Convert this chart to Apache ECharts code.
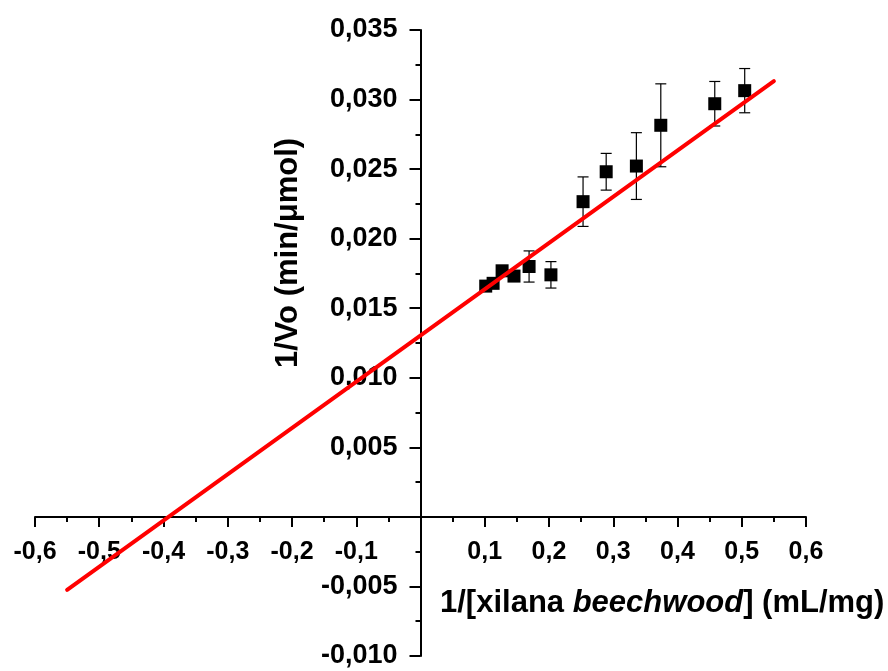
<!DOCTYPE html>
<html>
<head>
<meta charset="utf-8">
<script src="https://cdn.jsdelivr.net/npm/echarts@6/dist/echarts.min.js"></script>
<style>
html,body{margin:0;padding:0;background:#fff;}
#chart{width:888px;height:671px;}
</style>
</head>
<body>
<div id="chart"></div>
<script>
// 1/[S] (mL/mg)
var xVals = [0.1015, 0.113, 0.127, 0.1455, 0.169, 0.203, 0.253, 0.289, 0.336, 0.374, 0.458, 0.5046];
// 1/Vo (min/µmol)
var yVals = [0.01659, 0.01679, 0.01769, 0.01731, 0.01800, 0.01740, 0.02266, 0.02481, 0.02522, 0.02815, 0.02970, 0.03064];
// error (±)
var yErr = [0.0003, 0.0003, 0.0003, 0.0003, 0.00112, 0.00095, 0.00178, 0.00132, 0.0024, 0.00298, 0.0016, 0.00159];
// Lineweaver-Burk fit line endpoints
var fitX = [-0.55, 0.55];
var fitY = [-0.00524, 0.03132];

var xTitleA = '1/[xilana ';
var xTitleB = 'beechwood';
var xTitleC = '] (mL/mg)';
var yTitle = '1/Vo (min/\u03bcmol)';

var FONT = '"Liberation Sans", Arial, sans-serif';

var points = xVals.map(function (x, i) { return [x, yVals[i]]; });
var errData = xVals.map(function (x, i) { return [x, yVals[i] - yErr[i], yVals[i] + yErr[i]]; });
var fitData = fitX.map(function (x, i) { return [x, fitY[i]]; });

var GL = 35, GR = 82, GT = 30, GB = 15, W = 888, H = 671;
var xMin = -0.6, xMax = 0.6, yMin = -0.010, yMax = 0.035;
var gw = W - GL - GR, gh = H - GT - GB;
var yAxisOffset = -gw * (0 - xMin) / (xMax - xMin);
var xAxisOffset = -gh * (0 - yMin) / (yMax - yMin);

var chart = echarts.init(document.getElementById('chart'));
chart.setOption({
  backgroundColor: '#fff',
  animation: false,
  grid: {left: GL, right: GR, top: GT, bottom: GB, containLabel: false, outerBoundsMode: 'none'},
  xAxis: {
    type: 'value', min: xMin, max: xMax, interval: 0.1, position: 'bottom', offset: xAxisOffset,
    axisLine: {onZero: false, lineStyle: {color: '#000', width: 2}},
    axisTick: {show: true, inside: false, length: 10, lineStyle: {color: '#000', width: 2}},
    minorTick: {show: true, splitNumber: 2, length: 5, lineStyle: {color: '#000', width: 2}},
    splitLine: {show: false},
    axisLabel: {
      margin: 23, color: '#000', fontFamily: FONT, fontWeight: 'bold', fontSize: 25,
      formatter: function (v) { if (Math.abs(v) < 1e-9) return ''; return v.toFixed(1).replace('.', ','); }
    }
  },
  yAxis: {
    type: 'value', min: yMin, max: yMax, interval: 0.005, position: 'left', offset: yAxisOffset,
    axisLine: {onZero: false, lineStyle: {color: '#000', width: 2}},
    axisTick: {show: true, inside: false, length: 11, lineStyle: {color: '#000', width: 2}},
    minorTick: {show: true, splitNumber: 2, length: 5, lineStyle: {color: '#000', width: 2}},
    splitLine: {show: false},
    axisLabel: {
      margin: 23, color: '#000', fontFamily: FONT, fontWeight: 'bold', fontSize: 27,
      formatter: function (v) { if (Math.abs(v) < 1e-9) return ''; return v.toFixed(3).replace('.', ','); }
    }
  },
  series: [
    {
      type: 'custom',
      data: errData,
      z: 3,
      renderItem: function (params, api) {
        var lo = api.coord([api.value(0), api.value(1)]);
        var hi = api.coord([api.value(0), api.value(2)]);
        var w = 5.5;
        var st = {stroke: '#000', lineWidth: 1.2};
        return {
          type: 'group',
          children: [
            {type: 'line', shape: {x1: lo[0], y1: lo[1], x2: hi[0], y2: hi[1]}, style: st},
            {type: 'line', shape: {x1: lo[0] - w, y1: lo[1], x2: lo[0] + w, y2: lo[1]}, style: st},
            {type: 'line', shape: {x1: hi[0] - w, y1: hi[1], x2: hi[0] + w, y2: hi[1]}, style: st}
          ]
        };
      }
    },
    {
      type: 'scatter', data: points, symbol: 'rect', symbolSize: 13, z: 4,
      itemStyle: {color: '#000', opacity: 1}
    },
    {
      type: 'line', data: fitData, showSymbol: false, symbol: 'none', z: 5,
      lineStyle: {color: '#ff0000', width: 4, cap: 'round'}
    }
  ],
  graphic: [
    {
      type: 'text', left: 440, top: 588,
      style: {
        text: '{a|' + xTitleA + '}{b|' + xTitleB + '}{a|' + xTitleC + '}',
        rich: {
          a: {fontFamily: FONT, fontWeight: 'bold', fontSize: 31, fill: '#000', color: '#000'},
          b: {fontFamily: FONT, fontWeight: 'bold', fontStyle: 'italic', fontSize: 31, fill: '#000', color: '#000'}
        }
      }
    },
    {
      type: 'text', x: 288, y: 253, rotation: Math.PI / 2,
      style: {
        text: yTitle, fontFamily: FONT, fontWeight: 'bold', fontSize: 31, fill: '#000',
        textAlign: 'center', textVerticalAlign: 'middle'
      }
    }
  ]
});
</script>
</body>
</html>
